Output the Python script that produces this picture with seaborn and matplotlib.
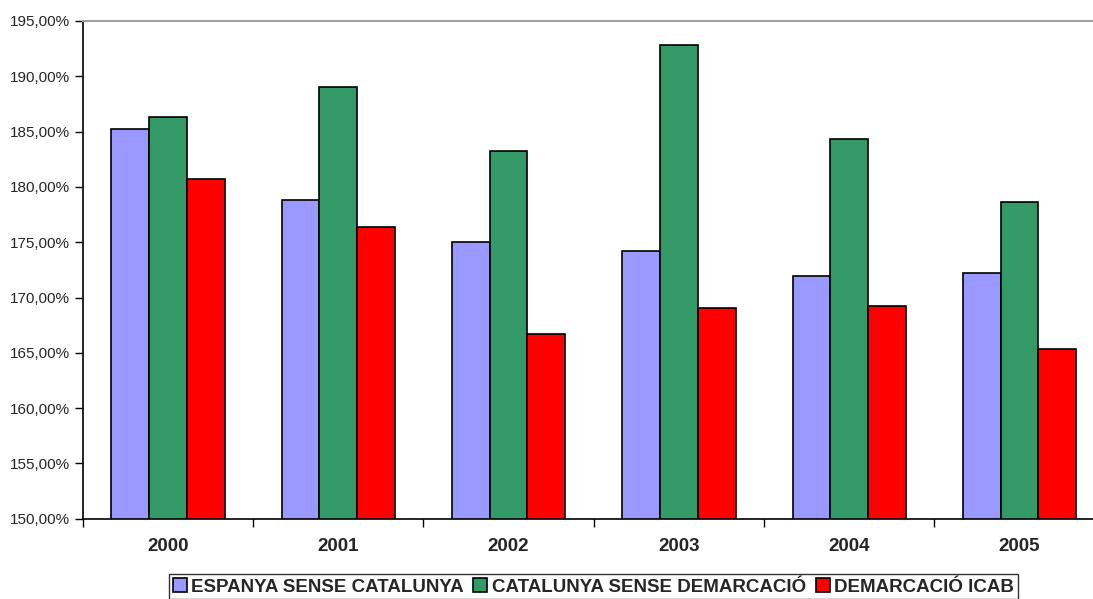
import pandas as pd
import numpy as np
import matplotlib
matplotlib.use('Agg')
import matplotlib.pyplot as plt
from matplotlib.ticker import FuncFormatter, FixedLocator
import seaborn as sns

# Data
years = ['2000', '2001', '2002', '2003', '2004', '2005']
series_names = ['ESPANYA SENSE CATALUNYA', 'CATALUNYA SENSE DEMARCACIÓ', 'DEMARCACIÓ ICAB']
espanya = [185.24, 178.80, 175.00, 174.20, 171.96, 172.20]
catalunya = [186.33, 189.03, 183.26, 192.80, 184.37, 178.67]
icab = [180.70, 176.39, 166.66, 169.06, 169.20, 165.33]
colors = ['#9999FF', '#339966', '#FF0000']

df = pd.DataFrame({
    'Any': years * 3,
    'Serie': [series_names[0]] * 6 + [series_names[1]] * 6 + [series_names[2]] * 6,
    'Valor': espanya + catalunya + icab,
})

sns.set_style('white')
plt.rcParams['font.family'] = ['Liberation Sans', 'DejaVu Sans']

fig = plt.figure(figsize=(10.93, 5.99), dpi=100)
# plot area runs slightly past the right edge, as in the original
ax = fig.add_axes([0.0757, 0.134, 0.935, 0.831])

sns.barplot(data=df, x='Any', y='Valor', hue='Serie', palette=colors,
            width=0.665, edgecolor='black', linewidth=1.2, saturation=1,
            ax=ax, legend=True)

# y axis: 150 % .. 195 %, comma decimal
ax.set_ylim(150, 195)
ax.set_yticks(np.arange(150, 196, 5))
ax.yaxis.set_major_formatter(FuncFormatter(lambda v, p: f'{v:.2f}'.replace('.', ',') + '%'))
ax.tick_params(axis='y', direction='out', length=6, width=1, color='black',
               labelsize=11, pad=3, left=True)

# x axis: labels centred, tick marks between groups
ax.set_xlim(-0.5, 5.5)
ax.tick_params(axis='x', which='major', length=0, pad=14, labelsize=13.5)
for lbl in ax.get_xticklabels():
    lbl.set_fontweight('bold')
ax.xaxis.set_minor_locator(FixedLocator(np.arange(-0.5, 6, 1)))
ax.tick_params(axis='x', which='minor', direction='out', length=6, width=1,
               color='black', bottom=True)

ax.set_xlabel('')
ax.set_ylabel('')

for side in ['left', 'bottom']:
    ax.spines[side].set_color('black')
    ax.spines[side].set_linewidth(1.2)
ax.spines['right'].set_visible(False)
ax.spines['top'].set_color('#A0A0A0')
ax.spines['top'].set_linewidth(1.5)

# legend box at the bottom
ax.get_legend().remove()
handles, labels = ax.get_legend_handles_labels()
leg = fig.legend(handles, labels, loc='upper center', bbox_to_anchor=(0.543, 0.041),
                 ncol=3, frameon=True, fancybox=False, edgecolor='black',
                 prop={'weight': 'bold', 'size': 13.5}, handlelength=0.75,
                 handleheight=0.75, handletextpad=0.25, columnspacing=0.5,
                 borderpad=0.2, borderaxespad=0.0)
leg.get_frame().set_linewidth(1.0)

fig.savefig('out.png', dpi=100, facecolor='white')
